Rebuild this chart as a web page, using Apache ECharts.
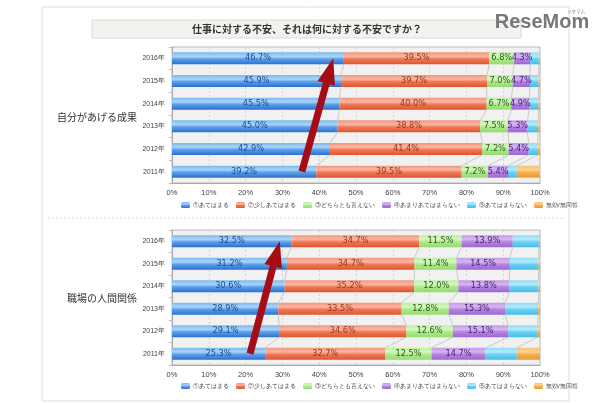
<!DOCTYPE html>
<html><head><meta charset="utf-8">
<script src="https://cdn.jsdelivr.net/npm/echarts@6/dist/echarts.min.js"></script>
<style>html,body{margin:0;padding:0;background:#fff}#c{width:600px;height:403px}</style>
</head><body><div id="c"></div>
<script>
var years = ['2016年','2015年','2014年','2013年','2012年','2011年'];
var names = ['①あてはまる','②少しあてはまる','③どちらとも言えない','④あまりあてはまらない','⑤あてはまらない','無効/無回答'];
var xTicks = [0,10,20,30,40,50,60,70,80,90,100];
var groupTitles = ['自分があげる成果','職場の人間関係'];
var mainTitle = '仕事に対する不安、それは何に対する不安ですか？';

// 自分があげる成果 (2016 .. 2011)
var a1 = [46.7, 45.9, 45.5, 45.0, 42.9, 39.2];
var a2 = [39.5, 39.7, 40.0, 38.8, 41.4, 39.5];
var a3 = [6.8, 7.0, 6.7, 7.5, 7.2, 7.2];
var a4 = [4.3, 4.7, 4.9, 5.3, 5.4, 5.4];
var a5 = [2.4, 2.3, 2.5, 2.9, 2.5, 2.4];
var a6 = [0.3, 0.4, 0.4, 0.5, 0.6, 6.2];
// 職場の人間関係 (2016 .. 2011)
var b1 = [32.5, 31.2, 30.6, 28.9, 29.1, 25.3];
var b2 = [34.7, 34.7, 35.2, 33.5, 34.6, 32.7];
var b3 = [11.5, 11.4, 12.0, 12.8, 12.6, 12.5];
var b4 = [13.9, 14.5, 13.8, 15.3, 15.1, 14.7];
var b5 = [7.1, 7.8, 8.0, 9.0, 8.0, 8.5];
var b6 = [0.3, 0.4, 0.4, 0.5, 0.6, 6.3];
// arrow annotations: [x from, year index from, x to, year index to]
var arrow1 = [35.3, 5.15, 43.8, 0];
var arrow2 = [21.2, 5.15, 29.3, 0];

var chartsData = [[a1,a2,a3,a4,a5,a6],[b1,b2,b3,b4,b5,b6]];

var grads = [
  ['#7db8f0','#abd4f8','#5ea1ea','#2a6fd2'],
  ['#f4957a','#f9b8a4','#f07a58','#df542e'],
  ['#bcf1a2','#d3f8c0','#acea8b','#93dc6e'],
  ['#c59ae8','#d7b6f0','#b684e2','#9c66d3'],
  ['#8cdcf8','#b5eafb','#6dd0f3','#45bdea'],
  ['#f8c070','#fbd596','#f5b050','#ea9a30']
];
var labelColors = ['#1b4a98','#9a3519','#2e5a1c','#43267a'];
function grad(g){return new echarts.graphic.LinearGradient(0,0,0,1,[
  {offset:0,color:g[0]},{offset:0.35,color:g[1]},{offset:0.55,color:g[2]},{offset:1,color:g[3]}]);}

var BW = 12;
var grids = [{left:172, top:47, width:368, height:136},{left:172, top:230, width:368, height:135}];
var series = [];
chartsData.forEach(function(cd, c){
  cd.forEach(function(vals, s){
    series.push({
      type:'bar', name:names[s], stack:'st'+c, xAxisIndex:c, yAxisIndex:c,
      data:vals, barWidth:BW, z:3,
      itemStyle:{color:grad(grads[s])},
      label:{show:s<4, position:'inside', fontSize:8.2, fontFamily:'DejaVu Sans',
        color:labelColors[s]||'#333', formatter:function(p){return p.value.toFixed(1)+'%';}}
    });
  });
  // connectors between bars
  var conn = [];
  for (var s=0; s<5; s++){
    for (var i=0; i<years.length-1; i++){
      var cA=0, cB=0;
      for (var k=0;k<=s;k++){cA+=cd[k][i]; cB+=cd[k][i+1];}
      conn.push([cA, i, cB, i+1]);
    }
  }
  series.push({
    type:'custom', xAxisIndex:c, yAxisIndex:c, z:2, silent:true,
    encode:{x:[0,2], y:[1,3]}, data:conn,
    renderItem:function(params, api){
      var p1 = api.coord([api.value(0), api.value(1)]);
      var p2 = api.coord([api.value(2), api.value(3)]);
      return {type:'line', shape:{x1:p1[0], y1:p1[1]+BW/2, x2:p2[0], y2:p2[1]-BW/2},
        style:{stroke:'#b8b8b8', lineWidth:0.7}};
    }
  });
  // arrow annotation
  series.push({
    type:'custom', xAxisIndex:c, yAxisIndex:c, z:10, silent:true,
    encode:{x:[0,2], y:[1,3]}, data:[c===0?arrow1:arrow2],
    renderItem:function(params, api){
      var p1 = api.coord([api.value(0), api.value(1)]);
      var p2 = api.coord([api.value(2), api.value(3)]);
      var dx=p2[0]-p1[0], dy=p2[1]-p1[1], L=Math.sqrt(dx*dx+dy*dy);
      var ux=dx/L, uy=dy/L, hl=26, hw=9;
      var bx=p2[0]-ux*hl, by=p2[1]-uy*hl, px=-uy, py=ux;
      return {type:'group', children:[
        {type:'line', shape:{x1:p1[0], y1:p1[1], x2:bx+ux*2, y2:by+uy*2},
          style:{stroke:'#a50d16', lineWidth:7}},
        {type:'polygon', shape:{points:[[p2[0],p2[1]],[bx+px*hw,by+py*hw],[bx-px*hw,by-py*hw]]},
          style:{fill:'#a50d16'}}
      ]};
    }
  });
});

var xAxes = [0,1].map(function(c){return {
  type:'value', gridIndex:c, min:xTicks[0], max:xTicks[xTicks.length-1], interval:xTicks[1]-xTicks[0],
  axisLabel:{fontSize:7.5, color:'#444', formatter:'{value}%', margin:6},
  axisLine:{show:true, lineStyle:{color:'#aaa'}}, axisTick:{show:false},
  splitLine:{show:true, lineStyle:{color:'#cfcfcf', type:[2,2], width:0.8}}
};});
var yAxes = [0,1].map(function(c){return {
  type:'category', gridIndex:c, data:years, inverse:true,
  axisLabel:{fontSize:7, color:'#444', margin:7},
  axisLine:{show:true, lineStyle:{color:'#aaa'}},
  axisTick:{show:true, length:3, lineStyle:{color:'#bbb'}}
};});

var legends = [197, 378].map(function(t){return {
  top:t, left:176, width:420, data:names, itemWidth:9, itemHeight:6, itemGap:7,
  textStyle:{fontSize:6, color:'#444', padding:[0,0,0,-2]}, selectedMode:false
};});

var option = {
  animation:false,
  grid: grids.map(function(g){return Object.assign({show:true, backgroundColor:'#f1f1f1', borderColor:'#bbb', borderWidth:1}, g);}),
  xAxis: xAxes, yAxis: yAxes, legend: legends, series: series,
  graphic:[
    {type:'rect', shape:{x:42, y:7, width:527, height:394}, style:{fill:'none', stroke:'#dedede', lineWidth:1}, z:-1},
    {type:'rect', shape:{x:92, y:20, width:429, height:18}, style:{fill:'#f2f2ee', stroke:'#dcdcd6', lineWidth:1}},
    {type:'text', x:307, y:29, style:{text:mainTitle, fontSize:10, fill:'#333', align:'center', verticalAlign:'middle', fontFamily:'Noto Sans CJK JP', fontWeight:'bold'}},
    {type:'line', shape:{x1:48, y1:218, x2:565, y2:218}, style:{stroke:'#dcdcdc', lineDash:[2,2], lineWidth:1}},
    {type:'text', x:97, y:117, style:{text:groupTitles[0], fontSize:10, fill:'#333', align:'center', verticalAlign:'middle', fontFamily:'Noto Sans CJK JP'}},
    {type:'text', x:102, y:298, style:{text:groupTitles[1], fontSize:10, fill:'#333', align:'center', verticalAlign:'middle', fontFamily:'Noto Sans CJK JP'}},
    {type:'text', x:542, y:22, style:{text:'ReseMom', fontSize:20, fill:'#787878', align:'center', verticalAlign:'middle', fontFamily:'Liberation Sans', fontWeight:'bold'}, z:20},
    {type:'text', x:576, y:11, style:{text:'リセマム', fontSize:4.5, fill:'#888', align:'center', verticalAlign:'middle', fontFamily:'Noto Sans CJK JP'}, z:20}
  ]
};
var chart = echarts.init(document.getElementById('c'));
chart.setOption(option);
</script></body></html>
